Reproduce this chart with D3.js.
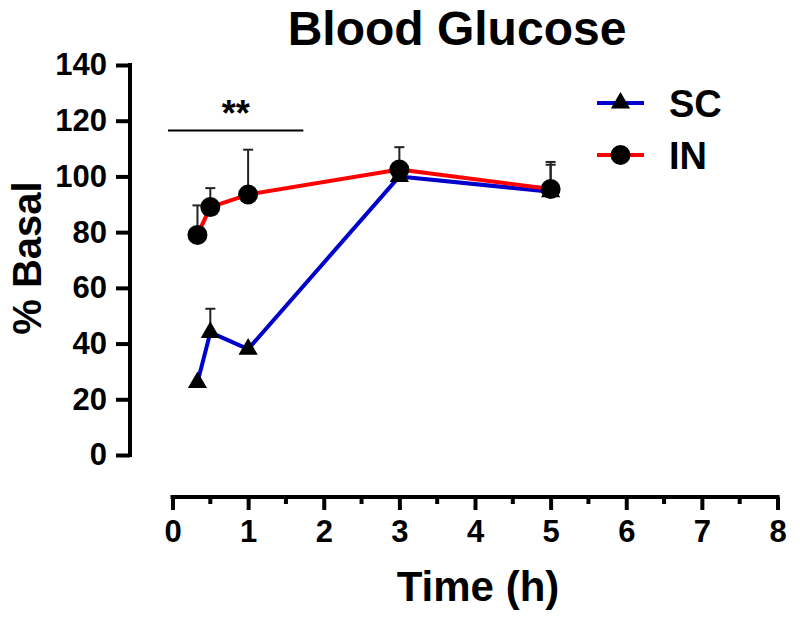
<!DOCTYPE html>
<html>
<head>
<meta charset="utf-8">
<script src="https://cdn.jsdelivr.net/npm/d3@7"></script>
<style>
  html, body { margin: 0; padding: 0; background: #fff; }
  svg text { font-family: "Liberation Sans", Arial, Helvetica, sans-serif; font-weight: bold; fill: #000; }
</style>
</head>
<body>
<svg id="chart" width="800" height="620"></svg>
<script>
// ---- data ----
const timeH = [0.33, 0.5, 1, 3, 5];
const scValues = [26, 44, 38, 100, 94.5];
const scErr = [0, 8.5, 0, 0, 9.7];
const inValues = [79, 89, 93.5, 102.5, 95.5];
const inErr = [10.6, 6.8, 16.1, 8.0, 9.7];
const xTicks = [0, 1, 2, 3, 4, 5, 6, 7, 8];
const xMinorTicks = [0.5, 1.5, 2.5, 3.5, 4.5, 5.5, 6.5, 7.5];
const yTicks = [0, 20, 40, 60, 80, 100, 120, 140];
const seriesNames = ["SC", "IN"];
const sigBar = [-0.06, 1.73];
const sigLevel = 116.5;
const sigLabel = "**";

const svg = d3.select("#chart");
const x = d3.scaleLinear().domain([0, 8]).range([172.5, 777.5]);
const y = d3.scaleLinear().domain([0, 140]).range([455, 65]);

// title
svg.append("text").attr("x", 457).attr("y", 45).attr("text-anchor", "middle")
  .style("font-size", "48px").text("Blood Glucose");

// y axis
const yAxisX = 130;
const gy = svg.append("g").attr("transform", `translate(${yAxisX},0)`)
  .call(d3.axisLeft(y).tickValues(yTicks).tickSize(14).tickSizeOuter(0).tickPadding(9));
gy.select(".domain").remove();
gy.append("line").attr("x1", 0).attr("x2", 0).attr("y1", y(140) - 2).attr("y2", y(0) + 2)
  .attr("stroke", "#000").attr("stroke-width", 4);
gy.selectAll(".tick line").attr("stroke", "#000").attr("stroke-width", 4);
gy.selectAll(".tick text").style("font-size", "31px").style("font-family", "'Liberation Sans', Arial, sans-serif").style("font-weight", "bold").attr("fill", "#000");

// x axis
const xAxisY = 497;
const gx = svg.append("g").attr("transform", `translate(0,${xAxisY})`)
  .call(d3.axisBottom(x).tickValues(xTicks).tickFormat(d3.format("d")).tickSize(13).tickSizeOuter(0).tickPadding(10));
gx.select(".domain").remove();
gx.append("line").attr("x1", x(0) - 2).attr("x2", x(8) + 2).attr("y1", 0).attr("y2", 0)
  .attr("stroke", "#000").attr("stroke-width", 4);
gx.selectAll(".tick line").attr("stroke", "#000").attr("stroke-width", 4);
gx.selectAll(".tick text").style("font-size", "31px").style("font-family", "'Liberation Sans', Arial, sans-serif").style("font-weight", "bold").attr("fill", "#000");
gx.selectAll(".minor").data(xMinorTicks).join("line").attr("class", "minor")
  .attr("x1", d => x(d)).attr("x2", d => x(d)).attr("y1", 0).attr("y2", 7)
  .attr("stroke", "#000").attr("stroke-width", 4);

// axis titles
svg.append("text").attr("x", 478).attr("y", 601).attr("text-anchor", "middle")
  .style("font-size", "42px").text("Time (h)");
svg.append("text").attr("transform", "translate(41,258) rotate(-90)").attr("text-anchor", "middle")
  .style("font-size", "40px").text("% Basal");

// significance bar
svg.append("line").attr("x1", x(sigBar[0])).attr("x2", x(sigBar[1]))
  .attr("y1", y(sigLevel)).attr("y2", y(sigLevel)).attr("stroke", "#000").attr("stroke-width", 2);
svg.append("text").attr("x", x((sigBar[0] + sigBar[1]) / 2)).attr("y", 126).attr("text-anchor", "middle")
  .style("font-size", "36px").text(sigLabel);

const series = [
  { name: seriesNames[0], vals: scValues, err: scErr, color: "#0000cc", shape: "tri" },
  { name: seriesNames[1], vals: inValues, err: inErr, color: "#ff0000", shape: "circle" }
];

// error bars (upward only)
series.forEach(s => {
  const g = svg.append("g");
  timeH.forEach((t, i) => {
    if (s.err[i] <= 0) return;
    const top = s.vals[i] + s.err[i];
    g.append("line").attr("x1", x(t)).attr("x2", x(t)).attr("y1", y(s.vals[i])).attr("y2", y(top))
      .attr("stroke", "#222").attr("stroke-width", 2);
    g.append("line").attr("x1", x(t) - 5).attr("x2", x(t) + 5).attr("y1", y(top)).attr("y2", y(top))
      .attr("stroke", "#222").attr("stroke-width", 2);
  });
});

// lines
const line = d3.line().x((d, i) => x(timeH[i])).y(d => y(d));
series.forEach(s => {
  svg.append("path").datum(s.vals).attr("d", line).attr("fill", "none")
    .attr("stroke", s.color).attr("stroke-width", 4).attr("stroke-linejoin", "round");
});

// markers
const triSym = d3.symbol().type(d3.symbolTriangle).size(160);
function drawMarker(g, shape, cx, cy) {
  if (shape === "circle") {
    g.append("circle").attr("cx", cx).attr("cy", cy).attr("r", 10).attr("fill", "#000");
  } else {
    g.append("path").attr("d", triSym()).attr("transform", `translate(${cx},${cy})`).attr("fill", "#000");
  }
}
series.forEach(s => {
  const g = svg.append("g");
  timeH.forEach((t, i) => drawMarker(g, s.shape, x(t), y(s.vals[i])));
});

// legend
const legendY = [103, 155];
series.forEach((s, i) => {
  const ly = legendY[i];
  svg.append("line").attr("x1", 597).attr("x2", 644).attr("y1", ly).attr("y2", ly)
    .attr("stroke", s.color).attr("stroke-width", 4);
  drawMarker(svg, s.shape, 620.5, ly);
  svg.append("text").attr("x", 669).attr("y", ly + 14).style("font-size", "38px").text(s.name);
});
</script>
</body>
</html>
